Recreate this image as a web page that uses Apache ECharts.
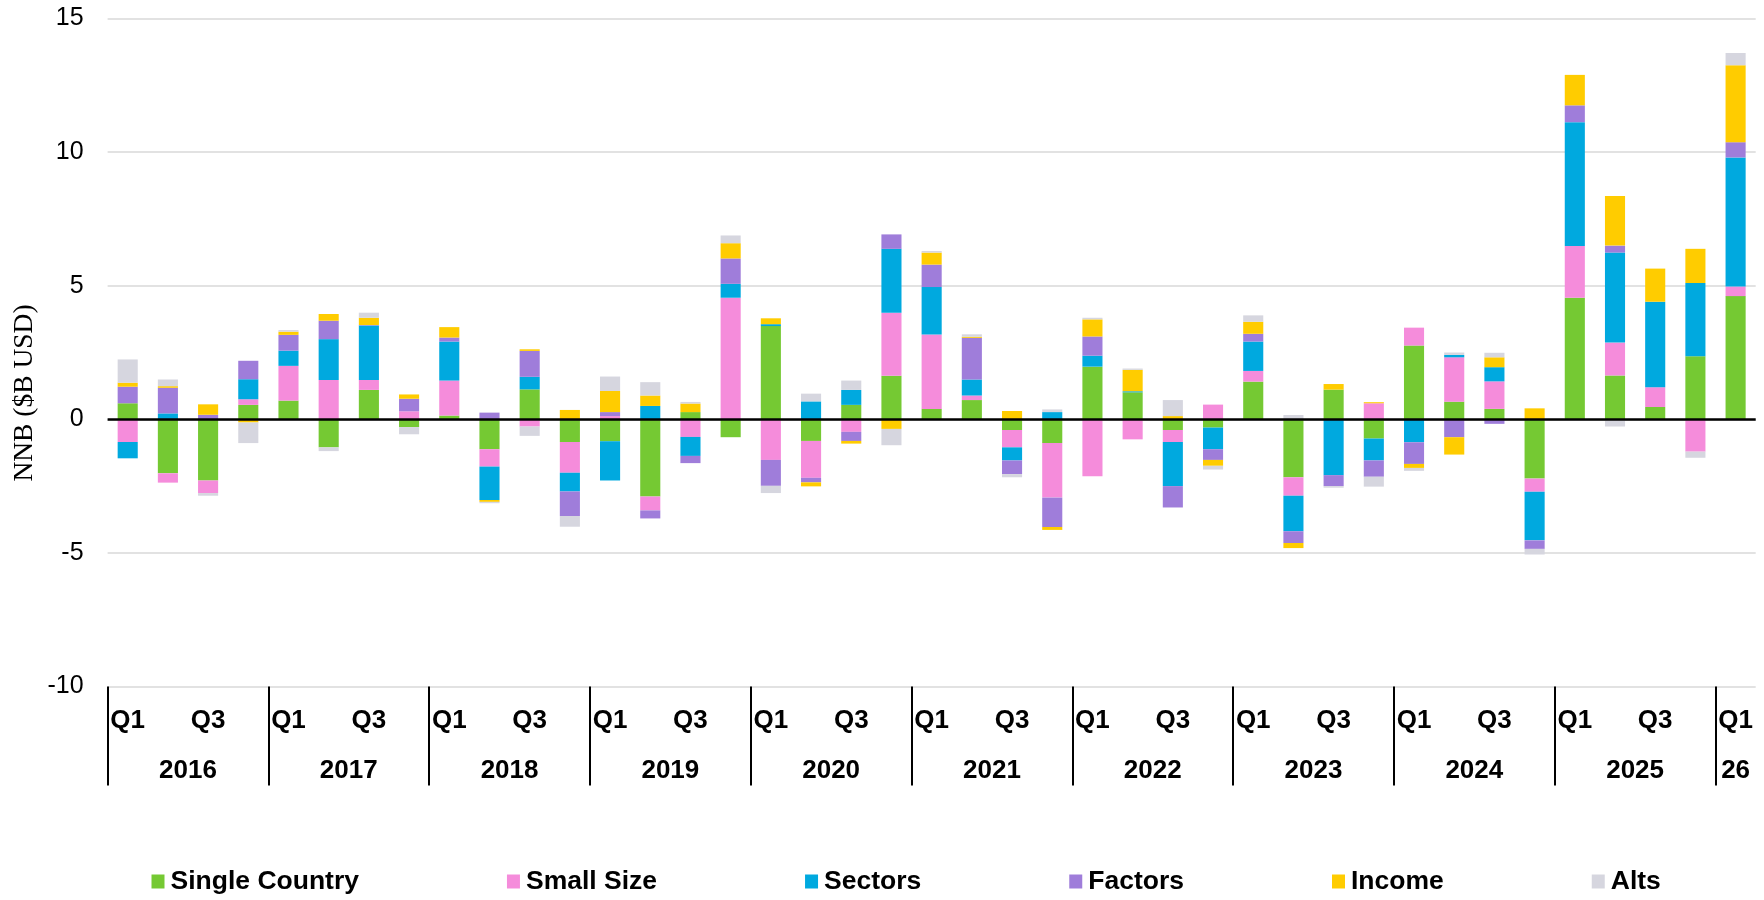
<!DOCTYPE html>
<html>
<head>
<meta charset="utf-8">
<script src="https://cdn.jsdelivr.net/npm/echarts@6/dist/echarts.min.js"></script>
<style>
  html, body { margin: 0; padding: 0; background: #fff; }
  #chart { width: 1764px; height: 900px; }
</style>
</head>
<body>
<div id="chart"></div>
<script>
// Quarterly net new business by segment, $B USD
const quarters = [
  '2016 Q1','2016 Q2','2016 Q3','2016 Q4',
  '2017 Q1','2017 Q2','2017 Q3','2017 Q4',
  '2018 Q1','2018 Q2','2018 Q3','2018 Q4',
  '2019 Q1','2019 Q2','2019 Q3','2019 Q4',
  '2020 Q1','2020 Q2','2020 Q3','2020 Q4',
  '2021 Q1','2021 Q2','2021 Q3','2021 Q4',
  '2022 Q1','2022 Q2','2022 Q3','2022 Q4',
  '2023 Q1','2023 Q2','2023 Q3','2023 Q4',
  '2024 Q1','2024 Q2','2024 Q3','2024 Q4',
  '2025 Q1','2025 Q2','2025 Q3','2025 Q4',
  '2026 Q1'
];
const yearLabels = ['2016','2017','2018','2019','2020','2021','2022','2023','2024','2025','26'];
const yTicks = [-10, -5, 0, 5, 10, 15];

const singleCountry = [0.60,-2.02,-2.29,0.54, 0.70,-1.05,1.10,-0.29, 0.14,-1.12,1.12,-0.85, -0.82,-2.89,0.27,-0.67,
  3.49,-0.81,0.54,1.63, 0.39,0.72,-0.40,-0.89, 1.97,1.01,-0.40,-0.31, 1.41,-2.17,1.11,-0.72, 2.76,0.66,0.39,-2.22,
  4.55,1.64,0.46,2.36, 4.61];
const smallSize = [-0.85,-0.35,-0.47,0.21, 1.30,1.47,0.37,0.30, 1.31,-0.65,-0.27,-1.15, 0.12,-0.52,-0.66,4.55,
  -1.52,-1.38,-0.47,2.36, 2.78,0.17,-0.65,-2.04, -2.13,-0.75,-0.45,0.55, 0.40,-0.69,0,0.60, 0.67,1.66,1.03,-0.49,
  1.94,1.23,0.74,-1.21, 0.36];
const sectors = [-0.61,0.22,0,0.75, 0.57,1.53,2.04,0, 1.46,-1.25,0.47,-0.70, -1.47,0.50,-0.71,0.52,
  0.07,0.67,0.56,2.39, 1.78,0.60,-0.49,0.27, 0.41,0.04,-1.65,-0.81, 1.10,-1.33,-2.09,-0.82, -0.86,0.09,0.53,-1.82,
  4.63,3.37,3.20,2.74, 4.83];
const factors = [0.62,0.96,0.17,0.69, 0.59,0.69,0.02,0.47, 0.15,0.25,0.97,-0.92, 0.15,-0.30,-0.27,0.95,
  -0.97,-0.17,-0.34,0.54, 0.84,1.56,-0.51,-1.10, 0.72,0,-0.80,-0.40, 0.29,-0.44,-0.41,-0.61, -0.81,-0.67,-0.17,-0.32,
  0.63,0.26,0,0, 0.57];
const income = [0.15,0.06,0.39,-0.12, 0.12,0.25,0.27,0.16, 0.39,-0.07,0.06,0.35, 0.79,0.39,0.32,0.57,
  0.22,-0.15,-0.10,-0.36, 0.45,0.04,0.31,-0.11, 0.64,0.80,0.12,-0.22, 0.45,-0.19,0.21,0.04, -0.15,-0.65,0.37,0.41,
  1.14,1.86,1.24,1.28, 2.88];
const alts = [0.87,0.25,-0.10,-0.77, 0.06,-0.14,0.19,-0.27, 0,-0.05,-0.35,-0.40, 0.54,0.50,0.06,0.29,
  -0.27,0.29,0.35,-0.61, 0.06,0.09,-0.12,0.10, 0.06,0.05,0.60,-0.14, 0.24,0.16,-0.06,-0.37, -0.11,0.09,0.17,-0.21,
  0,-0.27,0,-0.23, 0.46];

const seriesDefs = [
  { name: 'Single Country', data: singleCountry, color: '#75C933' },
  { name: 'Small Size',     data: smallSize,     color: '#F58CDB' },
  { name: 'Sectors',        data: sectors,       color: '#00A9DF' },
  { name: 'Factors',        data: factors,       color: '#9F7DDA' },
  { name: 'Income',         data: income,        color: '#FFCC00' },
  { name: 'Alts',           data: alts,          color: '#D6D6DF' }
];

// Year group boundaries and label centres on a 0..41 quarter scale
const groupStarts = [];
const groupCenters = [];
for (let i = 0; i < yearLabels.length; i++) {
  const start = i * 4;
  const size = Math.min(4, quarters.length - start);
  groupStarts.push(start);
  groupCenters.push(start + size / 2);
}

const sans = '"Liberation Sans", Arial, sans-serif';

const series = seriesDefs.map((s, i) => {
  const item = {
    name: s.name,
    type: 'bar',
    stack: 'nnb',
    xAxisIndex: 0,
    barCategoryGap: '50%',
    itemStyle: { color: s.color },
    data: s.data
  };
  if (i === 0) {
    // zero baseline
    item.markLine = {
      silent: true,
      symbol: 'none',
      label: { show: false },
      lineStyle: { color: '#000', width: 2.5, type: 'solid' },
      data: [{ yAxis: 0 }]
    };
  }
  return item;
});

const chart = echarts.init(document.getElementById('chart'), null, { renderer: 'canvas' });
chart.setOption({
  animation: false,
  backgroundColor: '#fff',
  color: seriesDefs.map(s => s.color),
  grid: { left: 107.6, right: 8.3, top: 18.5, bottom: 213.5 },
  legend: {
    top: 868,
    left: 151.5,
    padding: 0,
    itemGap: 148,
    itemWidth: 13,
    itemHeight: 14,
    icon: 'rect',
    textStyle: { fontFamily: sans, fontWeight: 'bold', fontSize: 26.5, color: '#000', padding: [0, 0, 0, 1] },
    data: seriesDefs.map(s => s.name)
  },
  xAxis: [
    {
      type: 'category',
      data: quarters,
      position: 'bottom',
      axisLine: { show: false, onZero: false },
      axisTick: { show: false },
      splitLine: { show: false },
      axisLabel: {
        interval: 0,
        margin: 21,
        fontFamily: sans,
        fontWeight: 'bold',
        fontSize: 26,
        color: '#000',
        formatter: v => {
          const q = v.split(' ')[1];
          return (q === 'Q1' || q === 'Q3') ? q : '';
        }
      }
    },
    {
      type: 'value',
      min: 0,
      max: quarters.length,
      position: 'bottom',
      axisLine: { show: false, onZero: false },
      splitLine: { show: false },
      axisTick: {
        show: true,
        inside: false,
        length: 99,
        customValues: groupStarts,
        lineStyle: { color: '#000', width: 2 }
      },
      axisLabel: {
        show: true,
        margin: 71,
        fontFamily: sans,
        fontWeight: 'bold',
        fontSize: 26,
        color: '#000',
        customValues: groupCenters,
        formatter: v => {
          const idx = groupCenters.findIndex(c => Math.abs(c - v) < 1e-6);
          return idx >= 0 ? yearLabels[idx] : '';
        }
      }
    }
  ],
  yAxis: {
    type: 'value',
    min: yTicks[0],
    max: yTicks[yTicks.length - 1],
    interval: 5,
    axisLine: { show: false },
    axisTick: { show: false },
    splitLine: { show: true, lineStyle: { color: '#D9D9D9', width: 1.5 } },
    axisLabel: { margin: 24, fontFamily: sans, fontSize: 25, color: '#000' }
  },
  graphic: [
    {
      type: 'text',
      x: 25,
      y: 393,
      rotation: Math.PI / 2,
      style: {
        text: 'NNB ($B USD)',
        fill: '#000',
        align: 'center',
        verticalAlign: 'middle',
        font: '27.5px "Liberation Serif", "Times New Roman", serif'
      }
    }
  ],
  series: series
});
</script>
</body>
</html>
